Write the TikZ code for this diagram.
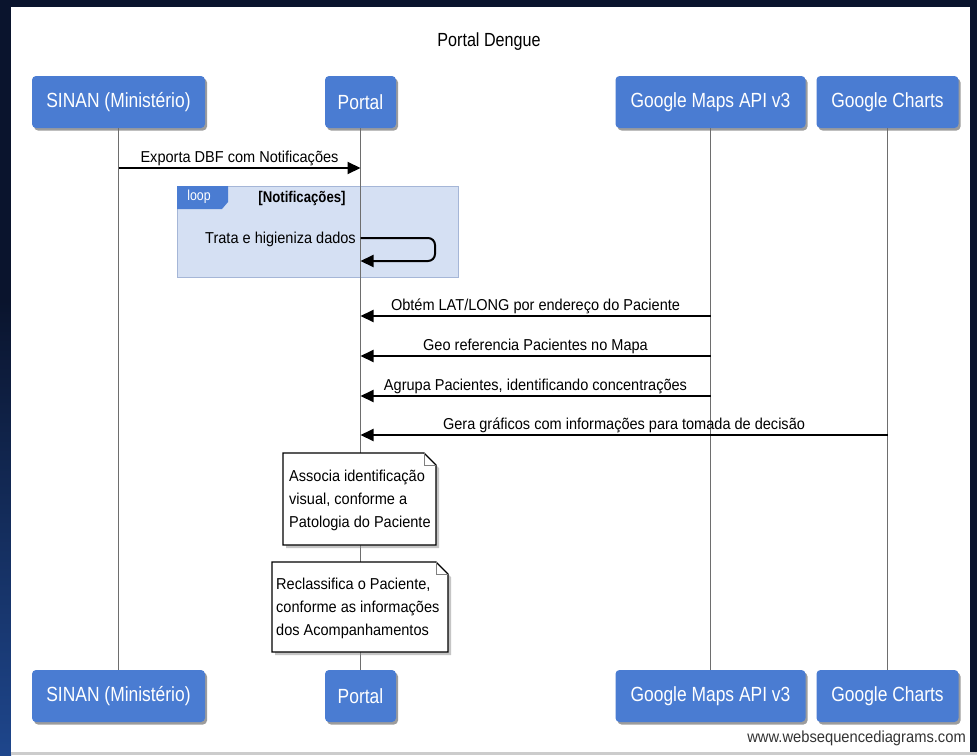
\documentclass[tikz,border=0pt]{standalone}
\usepackage{fontspec}
\setmainfont{Liberation Sans}
\newfontfamily\narrowfont[FakeStretch=0.85]{Liberation Sans}
\newfontfamily\semifont[FakeStretch=0.92]{Liberation Sans}
\usetikzlibrary{arrows.meta,shadows,calc}
\definecolor{framecol}{RGB}{10,20,45}
\definecolor{framelow}{RGB}{30,70,140}
\definecolor{pblue}{RGB}{74,124,210}
\definecolor{loopfill}{RGB}{213,224,243}
\definecolor{loopline}{RGB}{165,182,215}
\definecolor{lifegray}{RGB}{110,110,110}
\begin{document}
\begin{tikzpicture}[x=1pt,y=-1pt,
  part/.style={fill=pblue, rounded corners=4pt, text=white, inner sep=0pt,
    font=\narrowfont\fontsize{20.5}{22}\selectfont, minimum height=52pt,
    drop shadow={shadow xshift=2pt,shadow yshift=-2.5pt,fill=black!70,opacity=0.55}},
  lifeline/.style={draw=lifegray, line width=1pt},
  msg/.style={draw=black, line width=2pt, -{Triangle[length=13pt,width=12pt]}},
  msgtxt/.style={font=\semifont\fontsize{15.8}{18}\selectfont, inner sep=1.5pt},
  notebody/.style={fill=white, draw=black, line width=1.3pt, line join=miter},
  noteshadow/.style={fill=black!45, opacity=0.5},
  notetxt/.style={font=\semifont\fontsize{15.8}{23}\selectfont, align=left, inner sep=0pt, anchor=west}
]
\useasboundingbox (0,0) rectangle (977,755);
% screen frame
\fill[framecol] (0,0) rectangle (977,755);
\shade[top color=framecol, bottom color=framelow] (0,300) rectangle (11,755);
\fill[white] (11,7) rectangle (970,752);
\fill[black!20] (11,752) rectangle (977,755);

% title
\node[font=\narrowfont\fontsize{19}{21}\selectfont] (title) at (489,42) {Portal Dengue};

% participants
\node[part, minimum width=173pt] (sinanT) at (118.5,102) {SINAN (Ministério)};
\node[part, minimum width=71pt] (portalT) at (360.5,102) {Portal};
\node[part, minimum width=190pt] (mapsT) at (710.5,102) {Google Maps API v3};
\node[part, minimum width=142pt] (chartsT) at (887.5,102) {Google Charts};
\node[part, minimum width=173pt] (sinanB) at (118.5,696) {SINAN (Ministério)};
\node[part, minimum width=71pt] (portalB) at (360.5,696) {Portal};
\node[part, minimum width=190pt] (mapsB) at (710.5,696) {Google Maps API v3};
\node[part, minimum width=142pt] (chartsB) at (887.5,696) {Google Charts};

% loop frame
\node[fill=loopfill, draw=loopline, line width=0.8pt, minimum width=281pt, minimum height=91pt,
      inner sep=0pt, anchor=north west] (loop) at (177,186) {};
\fill[pblue] (loop.north west) -- ++(51,0) -- ++(0,16) -- ++(-6,7) -- ++(-45,0) -- cycle;
\node[text=white, font=\narrowfont\fontsize{14.5}{16}\selectfont, inner sep=0pt] (looplbl) at (199,197) {loop};
\node[font=\narrowfont\bfseries\fontsize{15.5}{17}\selectfont, inner sep=0pt] (loopcond) at (302,198) {[Notificações]};

% lifelines
\draw[lifeline] (sinanT) -- (sinanB);
\draw[lifeline] (portalT) -- (portalB);
\draw[lifeline] (mapsT) -- (mapsB);
\draw[lifeline] (chartsT) -- (chartsB);

% messages
\draw[msg] (sinanT |- 0,168) -- node[msgtxt, above] {Exporta DBF com Notificações} (portalT |- 0,168);

\node[msgtxt, anchor=east, inner sep=0pt] (selftxt) at (356,239) {Trata e higieniza dados};
\coordinate (selfA) at (portalT |- 0,238);
\coordinate (selfB) at (portalT |- 0,261);
\draw[msg, rounded corners=7pt] (selfA) -- (435,238) -- (435,261) -- (selfB);

\draw[msg] (mapsT |- 0,316) -- node[msgtxt, above] {Obtém LAT/LONG por endereço do Paciente} (portalT |- 0,316);
\draw[msg] (mapsT |- 0,356) -- node[msgtxt, above] {Geo referencia Pacientes no Mapa} (portalT |- 0,356);
\draw[msg] (mapsT |- 0,396) -- node[msgtxt, above] {Agrupa Pacientes, identificando concentrações} (portalT |- 0,396);
\draw[msg] (chartsT |- 0,435) -- node[msgtxt, above] {Gera gráficos com informações para tomada de decisão} (portalT |- 0,435);

% note 1
\fill[noteshadow] (286,456) -- (427,456) -- (439,468) -- (439,548) -- (286,548) -- cycle;
\draw[notebody] (283,453) -- (424,453) -- (436,465) -- (436,545) -- (283,545) -- cycle;
\draw[black!50, line width=0.7pt] (424,453) -- (424,465) -- (436,465);
\node[notetxt] (note1) at (289,500) {Associa identificação\\visual, conforme a\\Patologia do Paciente};

% note 2
\fill[noteshadow] (275,565) -- (439,565) -- (451,577) -- (451,655) -- (275,655) -- cycle;
\draw[notebody] (272,562) -- (436,562) -- (448,574) -- (448,652) -- (272,652) -- cycle;
\draw[black!50, line width=0.7pt] (436,562) -- (436,574) -- (448,574);
\node[notetxt] (note2) at (276,608.5) {Reclassifica o Paciente,\\conforme as informações\\dos Acompanhamentos};

% watermark
\node[anchor=east, font=\semifont\fontsize{16}{18}\selectfont, text=black!80, inner sep=0pt] (wm) at (966,738) {www.websequencediagrams.com};
\end{tikzpicture}
\end{document}
